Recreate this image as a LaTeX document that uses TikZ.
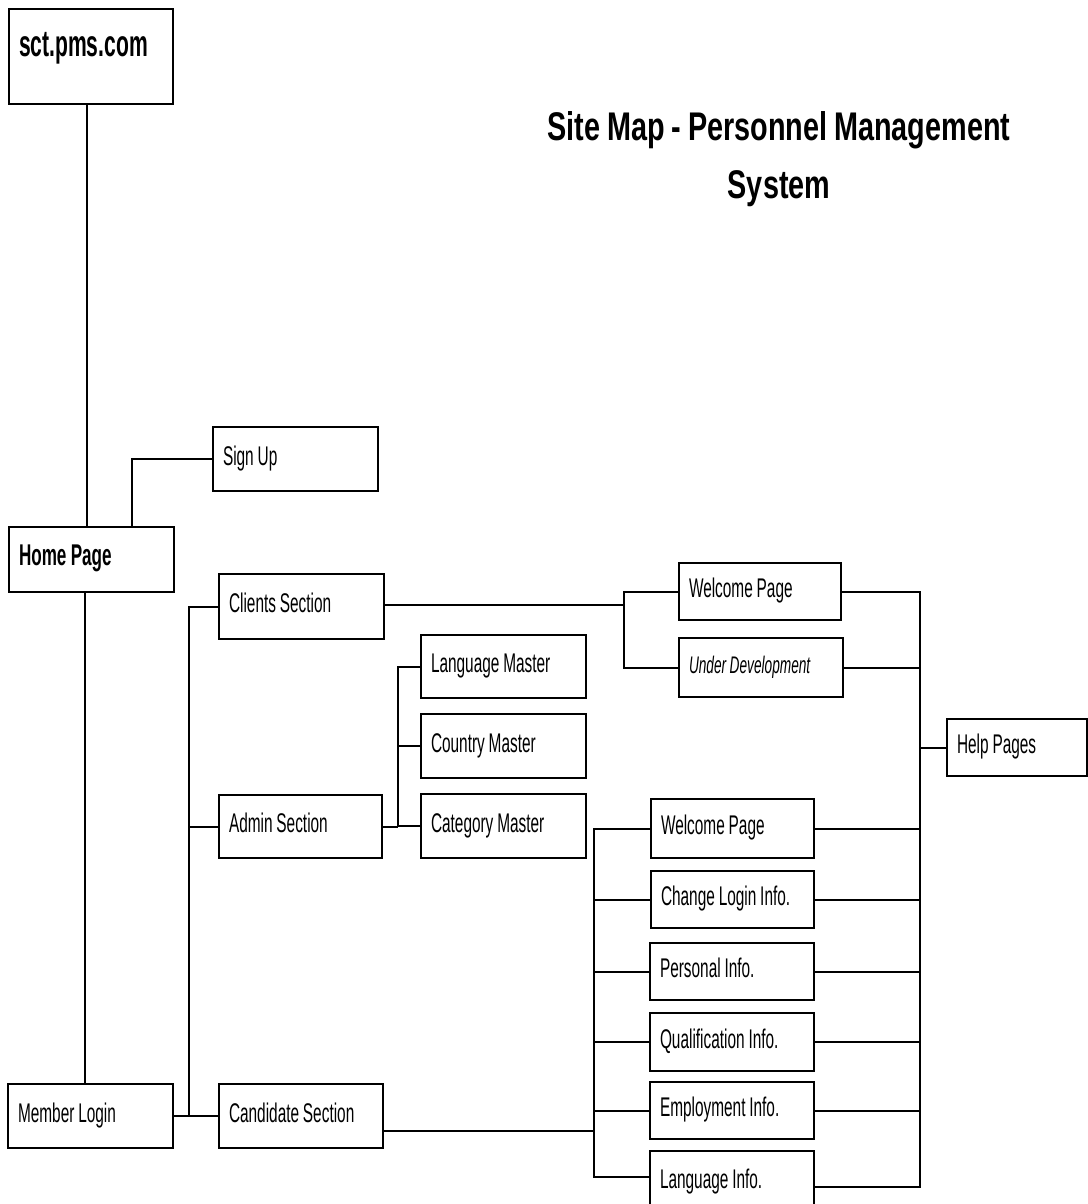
\documentclass[tikz,border=0pt]{standalone}
\usepackage{fontspec}
\setmainfont{Liberation Sans}[FakeStretch=0.57, WordSpace=0.9]
\newfontfamily\titlefont{Liberation Sans}[FakeStretch=0.72, WordSpace=0.85]
\usepackage{tikz}

\tikzset{
  pg/.style 2 args={draw, line width=2pt, anchor=north west, inner xsep=10pt, inner ysep=0pt,
    align=flush left, text width=#1, minimum height=#2, text height=20pt, text depth=8pt,
    font=\fontsize{27}{30}\selectfont},
  pgbold/.style={font=\fontsize{30}{34}\selectfont\bfseries},
  link/.style={line width=2pt}
}

\begin{document}
\begin{tikzpicture}[x=1pt, y=-1pt]
  \useasboundingbox (0,0) rectangle (1087,1204);

  \node[anchor=base, align=center, font=\titlefont\fontsize{40}{58}\selectfont\bfseries] (title) at (779,198)
    {Site Map - Personnel Management\\System};

  % left column
  \node[pg={144pt}{95pt}, font=\fontsize{37}{40}\selectfont\bfseries, text height=27pt, text depth=27pt] (site) at (8,8) {sct.pms.com};
  \node[pg={145pt}{65pt}, pgbold] (home) at (8,526) {Home Page};
  \node[pg={145pt}{64pt}] (signup) at (212,426) {Sign Up};
  \node[pg={145pt}{64pt}] (member) at (7,1083) {Member Login};

  % sections
  \node[pg={145pt}{65pt}] (clients) at (218,573) {Clients Section};
  \node[pg={143pt}{63pt}] (admin) at (218,794) {Admin Section};
  \node[pg={144pt}{64pt}] (candidate) at (218,1083) {Candidate Section};

  % admin masters
  \node[pg={145pt}{63pt}] (langm) at (420,634) {Language Master};
  \node[pg={145pt}{64pt}] (countrym) at (420,713) {Country Master};
  \node[pg={145pt}{64pt}] (catm) at (420,793) {Category Master};

  % client pages
  \node[pg={142pt}{57pt}] (welA) at (678,562) {Welcome Page};
  \node[pg={144pt}{59pt}, font=\fontsize{24}{26}\selectfont\itshape] (underdev) at (678,637) {Under Development};

  % candidate pages
  \node[pg={143pt}{59pt}] (welB) at (650,798) {Welcome Page};
  \node[pg={143pt}{57pt}] (chglogin) at (650,870) {Change Login Info.};
  \node[pg={144pt}{57pt}] (personal) at (649,942) {Personal Info.};
  \node[pg={144pt}{58pt}] (qualif) at (649,1012) {Qualification Info.};
  \node[pg={144pt}{57pt}] (employ) at (649,1081) {Employment Info.};
  \node[pg={144pt}{62pt}] (langinfo) at (649,1150) {Language Info.};

  \node[pg={120pt}{57pt}] (help) at (946,718) {Help Pages};

  % bus lines
  \coordinate (secbus) at (189,0);
  \coordinate (mastbus) at (398,0);
  \coordinate (clibus) at (624,0);
  \coordinate (candbus) at (594,0);
  \coordinate (rbus) at (920,0);
  \coordinate (siteout) at ([xshift=-4pt]site.south);
  \coordinate (cliout) at ([yshift=2pt]clients.east);
  \coordinate (candout) at ([yshift=-15pt]candidate.east);
  \coordinate (langout) at ([yshift=-5pt]langinfo.east);
  \coordinate (langin) at ([yshift=5pt]langinfo.west);

  \draw[link] (siteout) -- (siteout |- home.north);
  \draw[link] ([xshift=40pt]home.north) |- (signup.west);
  \draw[link] ([xshift=-7pt]home.south) -- ([xshift=-7pt]home.south |- member.north);
  \draw[link] (member.east) -- (candidate.west);

  \draw[link] (clients.west) -| (secbus |- candidate.west);
  \draw[link] (admin.west) -- (secbus |- admin.west);

  \draw[link] (admin.east) -- (mastbus |- admin.east);
  \draw[link] (langm.west) -| (mastbus |- admin.east);
  \foreach \p in {countrym,catm} \draw[link] (\p.west) -- (mastbus |- \p.west);

  \draw[link] (cliout) -- (clibus |- cliout);
  \draw[link] (welA.west) -| (clibus |- underdev.west) -- (underdev.west);

  \draw[link] (candout) -- (candbus |- candout);
  \draw[link] (welB.west) -| (candbus |- langin) -- (langin);
  \foreach \p in {chglogin,personal,qualif,employ} \draw[link] (\p.west) -- (candbus |- \p.west);

  \draw[link] (welA.east) -| (rbus |- langout) -- (langout);
  \foreach \p in {underdev,welB,chglogin,personal,qualif,employ} \draw[link] (\p.east) -- (rbus |- \p.east);
  \draw[link] (help.west) -- (rbus |- help.west);
\end{tikzpicture}
\end{document}
